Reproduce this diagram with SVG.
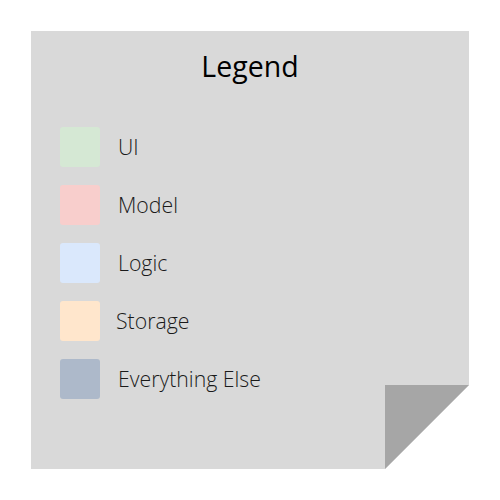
<svg xmlns="http://www.w3.org/2000/svg" width="500" height="500" viewBox="0 0 500 500">
<style>
.lbl{font-family:"Open Sans","Liberation Sans",sans-serif;font-size:21.25px;font-weight:300;fill:#1a1a1a}
.sw{stroke:none}
</style>
<rect width="500" height="500" fill="#ffffff"/>
<g id="note">
<polygon points="31,31 469,31 469,385 385,469 31,469" fill="#d9d9d9"/>
<polygon points="385,385 469,385 385,469" fill="#a6a6a6"/>
</g>
<g id="title"><text x="250" y="77" text-anchor="middle" font-family="'Open Sans','Liberation Sans',sans-serif" font-size="28.5" fill="#000000">Legend</text></g>
<g id="ui"><rect class="sw" x="60" y="127" width="40" height="40" rx="3" fill="#d5e8d4"/><text class="lbl" x="118" y="155">UI</text></g>
<g id="model"><rect class="sw" x="60" y="185" width="40" height="40" rx="3" fill="#f8cecc"/><text class="lbl" x="118" y="213">Model</text></g>
<g id="logic"><rect class="sw" x="60" y="243" width="40" height="40" rx="3" fill="#dae8fc"/><text class="lbl" x="118" y="271">Logic</text></g>
<g id="storage"><rect class="sw" x="60" y="301" width="40" height="40" rx="3" fill="#ffe6cc"/><text class="lbl" x="116" y="329">Storage</text></g>
<g id="else"><rect class="sw" x="60" y="359" width="40" height="40" rx="3" fill="#adb9ca"/><text class="lbl" x="118" y="387">Everything Else</text></g>
<g id="connectors"/>
</svg>
